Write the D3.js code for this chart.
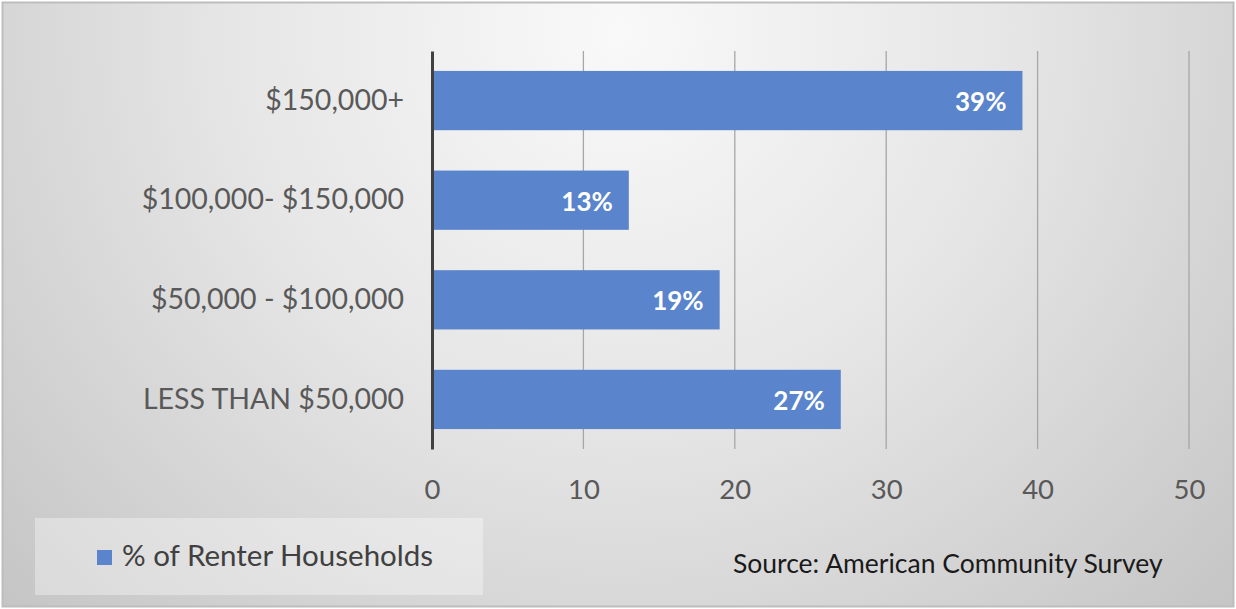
<!DOCTYPE html>
<html lang="en">
<head>
<meta charset="utf-8">
<title>Renter households by income</title>
<script src="https://d3js.org/d3.v7.min.js"></script>
<style>
  body { margin: 0; background: #fff; }
  #chart text { font-family: Lato, "Open Sans", sans-serif; }
</style>
</head>
<body>
<div id="chart"></div>
<script>
"use strict"

// data, top bar first
var categorias = ["$150,000+", "$100,000- $150,000", "$50,000 - $100,000", "LESS THAN $50,000"];
var valores = [39, 13, 19, 27];
var rotulos = ["39%", "13%", "19%", "27%"];
var ticksX = [0, 10, 20, 30, 40, 50];
var nomeSerie = "% of Renter Households";
var fonte = "Source: American Community Survey";

var larguraSVG = 1236, alturaSVG = 609;
var margin = {top: 51, right: 47, bottom: 160, left: 432};
var larguraVis = larguraSVG - margin.left - margin.right,
    alturaVis = alturaSVG - margin.top - margin.bottom;

var svg = d3.select('#chart').append('svg')
    .attr('width', larguraSVG)
    .attr('height', alturaSVG);

// fundo com gradiente radial
var defs = svg.append('defs');
var grad = defs.append('radialGradient')
    .attr('id', 'fundo')
    .attr('cx', '0.5').attr('cy', '0.05').attr('r', '0.7')
    .attr('gradientTransform', 'translate(0.5,0.05) scale(1,2) translate(-0.5,-0.05)');
grad.append('stop').attr('offset', '0%').attr('stop-color', '#f9f9f9');
grad.append('stop').attr('offset', '45%').attr('stop-color', '#e6e6e6');
grad.append('stop').attr('offset', '100%').attr('stop-color', '#c4c4c4');

svg.append('rect')
    .attr('x', 2.5).attr('y', 2.5)
    .attr('width', larguraSVG - 5).attr('height', alturaSVG - 5)
    .attr('fill', 'url(#fundo)')
    .attr('stroke', '#bdbdbd')
    .attr('stroke-width', 2);

var grafico = svg.append('g')
    .attr('transform', 'translate(' + margin.left + ',' + margin.top + ')');

var x = d3.scaleLinear()
    .domain([0, 50])
    .range([0, larguraVis]);

var y = d3.scaleBand()
    .domain(categorias)
    .range([0, alturaVis])
    .paddingInner(0.405)
    .paddingOuter(0.2);

// linhas de grade
grafico.append('g')
    .selectAll('line')
    .data(ticksX.slice(1))
    .enter().append('line')
      .attr('x1', d => x(d)).attr('x2', d => x(d))
      .attr('y1', 0).attr('y2', alturaVis)
      .attr('stroke', '#a6a6a6')
      .attr('stroke-width', 1.3);

// barras
grafico.selectAll('rect.bar')
    .data(valores)
    .enter().append('rect')
      .attr('class', 'bar')
      .attr('x', 0)
      .attr('y', (d, i) => y(categorias[i]))
      .attr('width', d => x(d))
      .attr('height', y.bandwidth())
      .attr('fill', '#5a84cb');

// rotulos de dados
grafico.selectAll('text.rot')
    .data(valores)
    .enter().append('text')
      .attr('class', 'rot')
      .attr('x', d => x(d) - 16)
      .attr('y', (d, i) => y(categorias[i]) + y.bandwidth() / 2)
      .attr('dy', '0.4em')
      .attr('text-anchor', 'end')
      .attr('fill', '#fff')
      .attr('font-weight', 'bold')
      .attr('font-size', '26px')
      .text((d, i) => rotulos[i]);

// eixo y
var eixoY = grafico.append('g')
    .call(d3.axisLeft(y).tickSize(0).tickPadding(28));
eixoY.select('.domain').attr('stroke', '#404040').attr('stroke-width', 3);
eixoY.selectAll('text')
    .attr('font-size', '28.5px')
    .attr('fill', '#595959');

// eixo x
var eixoX = grafico.append('g')
    .attr('transform', 'translate(0,' + alturaVis + ')')
    .call(d3.axisBottom(x).tickValues(ticksX).tickSize(0).tickPadding(30));
eixoX.select('.domain').remove();
eixoX.selectAll('text')
    .attr('font-size', '27.5px')
    .attr('fill', '#595959');

// legenda
var leg = svg.append('g');
leg.append('rect')
    .attr('x', 35).attr('y', 518)
    .attr('width', 448).attr('height', 77)
    .attr('fill', '#ffffff').attr('fill-opacity', 0.35);
leg.append('rect')
    .attr('x', 97).attr('y', 550)
    .attr('width', 15).attr('height', 15)
    .attr('fill', '#5a84cb');
leg.append('text')
    .attr('x', 122).attr('y', 566)
    .attr('font-size', '29.5px')
    .attr('fill', '#404040')
    .text(nomeSerie);

// fonte
svg.append('text')
    .attr('x', 733).attr('y', 573)
    .attr('font-size', '26.5px')
    .attr('fill', '#1a1a1a')
    .text(fonte);
</script>
</body>
</html>
